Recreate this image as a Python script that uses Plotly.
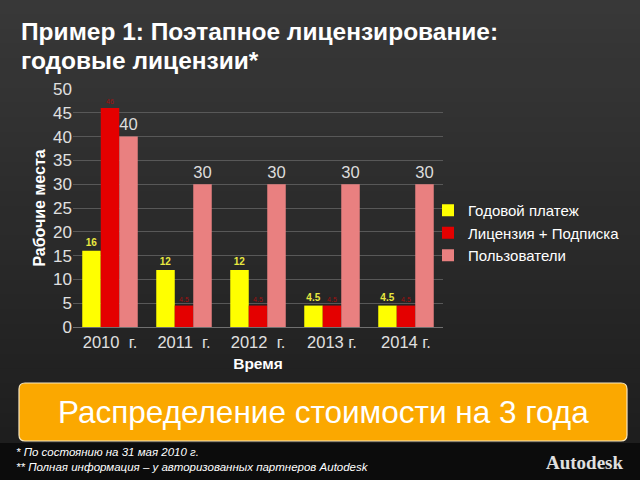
import plotly.graph_objects as go

categories = ["2010  г.", "2011  г.", "2012  г.", "2013 г.", "2014 г."]
annual_payment = [16, 12, 12, 4.5, 4.5]
license_subscription = [46, 4.5, 4.5, 4.5, 4.5]
users = [40, 30, 30, 30, 30]
series_names = ["Годовой платеж", "Лицензия + Подписка", "Пользователи"]
y_ticks = [0, 5, 10, 15, 20, 25, 30, 35, 40, 45, 50]

FONT = "Liberation Sans, Arial, sans-serif"
W, H = 640, 480


def cx(px):
    return px / W


def cy(py):
    return 1 - py / H


fig = go.Figure()
fig.add_trace(go.Bar(
    x=categories, y=annual_payment, name=series_names[0],
    marker=dict(color="#FFFF00", line=dict(width=0)),
    text=[str(v) for v in annual_payment], textposition="outside",
    textfont=dict(color="#E8E840", size=10, family=FONT, weight="bold"),
    cliponaxis=False,
))
fig.add_trace(go.Bar(
    x=categories, y=license_subscription, name=series_names[1],
    marker=dict(color="#E40000", line=dict(width=0)),
    text=[str(v) for v in license_subscription], textposition="outside",
    textfont=dict(color="#A01010", size=7, family=FONT),
    cliponaxis=False,
))
fig.add_trace(go.Bar(
    x=categories, y=users, name=series_names[2],
    marker=dict(color="#E98080", line=dict(width=0)),
    text=[str(v) for v in users], textposition="outside",
    textfont=dict(color="#DDDDDD", size=18, family=FONT),
    cliponaxis=False,
))


def px_x(px):
    return (px - 73) / 370


def px_y(py):
    return (327 - py) / 238


# background gradient bands
shapes = []
n = 30
top_c = (0x38, 0x38, 0x38)
bot_c = (0x1e, 0x1e, 0x1e)
hh = 443
for i in range(n):
    t = i / (n - 1)
    c = tuple(int(round(top_c[k] + (bot_c[k] - top_c[k]) * t)) for k in range(3))
    ytop = i * hh / n
    ybot = (i + 1) * hh / n + 0.5
    shapes.append(dict(type="rect", xref="paper", yref="paper",
                       x0=px_x(-5), x1=px_x(645), y0=px_y(ybot), y1=px_y(ytop - 0.5),
                       fillcolor="rgb(%d,%d,%d)" % c, line=dict(width=0), layer="below"))

# footer black band
shapes.append(dict(type="rect", xref="paper", yref="paper",
                   x0=px_x(-5), x1=px_x(645), y0=px_y(485), y1=px_y(443),
                   fillcolor="#0c0c0c", line=dict(width=0), layer="below"))

# orange rounded box
bx0, bx1, by0, by1, r = px_x(19), px_x(627), px_y(441), px_y(383), 6
rx = r / 370
ry = r / 238
path = (f"M {bx0 + rx},{by1} L {bx1 - rx},{by1} Q {bx1},{by1} {bx1},{by1 - ry} "
        f"L {bx1},{by0 + ry} Q {bx1},{by0} {bx1 - rx},{by0} "
        f"L {bx0 + rx},{by0} Q {bx0},{by0} {bx0},{by0 + ry} "
        f"L {bx0},{by1 - ry} Q {bx0},{by1} {bx0 + rx},{by1} Z")
shapes.append(dict(type="path", xref="paper", yref="paper", path=path,
                   fillcolor="#FBA800", line=dict(color="#F8E7C0", width=1.2), layer="above"))

annotations = [
    dict(text="<b>Пример 1: Поэтапное лицензирование:</b>",
         xref="paper", yref="paper", x=px_x(19), y=px_y(32), xanchor="left", yanchor="middle",
         showarrow=False, align="left",
         font=dict(color="white", size=24.5, family=FONT)),
    dict(text="<b>годовые лицензии*</b>",
         xref="paper", yref="paper", x=px_x(19), y=px_y(60), xanchor="left", yanchor="middle",
         showarrow=False, align="left",
         font=dict(color="white", size=24.5, family=FONT)),
    dict(text="Распределение стоимости на 3 года",
         xref="paper", yref="paper", x=px_x(323), y=px_y(412), xanchor="center", yanchor="middle",
         showarrow=False, font=dict(color="white", size=31.5, family=FONT)),
    dict(text="<i>* По состоянию на 31 мая 2010 г.<br>** Полная информация – у авторизованных партнеров Autodesk</i>",
         xref="paper", yref="paper", x=px_x(14), y=px_y(444), xanchor="left", yanchor="top",
         showarrow=False, align="left",
         font=dict(color="white", size=11.5, family=FONT)),
    dict(text="<b>Autodesk</b>",
         xref="paper", yref="paper", x=px_x(626), y=px_y(462), xanchor="right", yanchor="middle",
         showarrow=False,
         font=dict(color="#E0E0E0", size=19, family="Liberation Serif, DejaVu Serif, serif")),
]

fig.update_layout(
    width=W, height=H,
    autosize=False,
    margin=dict(l=73, r=197, t=89, b=153, autoexpand=False),
    paper_bgcolor="#262626", plot_bgcolor="rgba(0,0,0,0)",
    barmode="group", bargap=0.25, bargroupgap=0.0,
    font=dict(family=FONT, color="#E6E6E6"),
    shapes=shapes, annotations=annotations,
    showlegend=True,
    legend=dict(xref="container", yref="container",
                x=cx(428), y=cy(194), xanchor="left", yanchor="top",
                bgcolor="rgba(0,0,0,0)", font=dict(size=15, color="white", family=FONT),
                itemwidth=30, tracegroupgap=0),
    xaxis=dict(
        tickfont=dict(size=16.5, color="#E0E0E0"),
        title=dict(text="<b>Время</b>", font=dict(size=15.5, color="white"), standoff=8),
        showline=True, linecolor="#707070", ticks="", showgrid=False,
    ),
    yaxis=dict(
        range=[0, 50], tickvals=y_ticks,
        tickfont=dict(size=17, color="#E0E0E0"),
        title=dict(text="<b>Рабочие места</b>", font=dict(size=16, color="white"), standoff=3),
        showgrid=True, gridcolor="#585858", gridwidth=1,
        zeroline=False, showline=False, ticks="",
    ),
)

fig.write_html("out.html")
